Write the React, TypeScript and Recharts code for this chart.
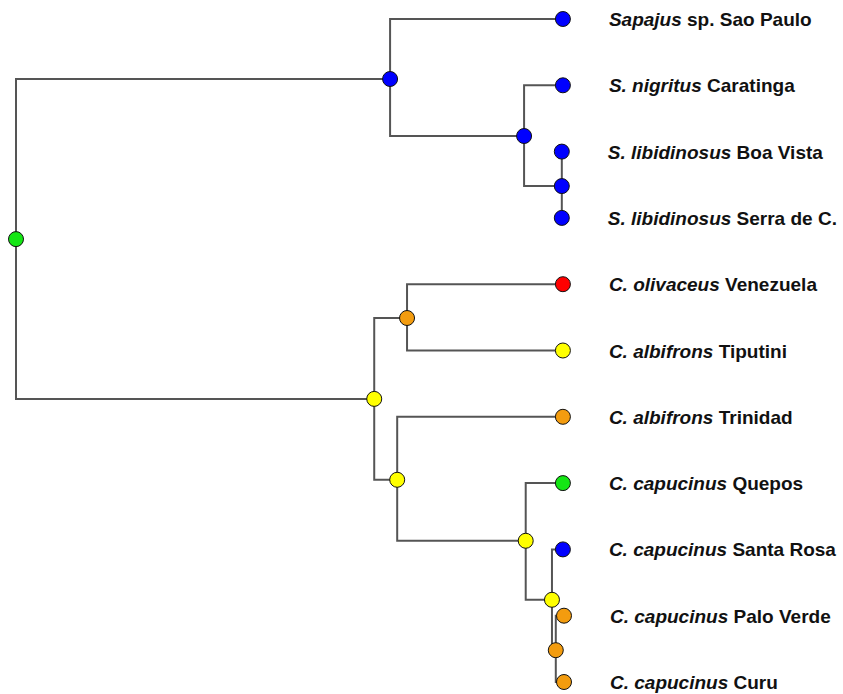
import { Scatter, ScatterChart, XAxis, YAxis } from "recharts"

const GREEN = "#14e614"
const BLUE = "#0000ff"
const RED = "#ff0000"
const ORANGE = "#f39c0f"
const YELLOW = "#ffff00"

// tips (leaves), top to bottom
const tipItalic = [
  "Sapajus",
  "S. nigritus",
  "S. libidinosus",
  "S. libidinosus",
  "C. olivaceus",
  "C. albifrons",
  "C. albifrons",
  "C. capucinus",
  "C. capucinus",
  "C. capucinus",
  "C. capucinus",
]
const tipPlain = [
  "sp. Sao Paulo",
  "Caratinga",
  "Boa Vista",
  "Serra de C.",
  "Venezuela",
  "Tiputini",
  "Trinidad",
  "Quepos",
  "Santa Rosa",
  "Palo Verde",
  "Curu",
]
const tipOrder = [0, 1, 2, 3, 4, 5, 6, 7, 8, 9, 10]
const tipDepth = [1, 1, 0.998, 0.998, 1, 1, 1, 1, 1, 1.002, 1.002]
const tipParent = ["sap", "sapB", "lib", "lib", "oliv", "oliv", "cebB", "cap", "capB", "capC", "capC"]
const tipColor = [BLUE, BLUE, BLUE, BLUE, RED, YELLOW, ORANGE, GREEN, BLUE, ORANGE, ORANGE]

// internal nodes
const innerIds = ["root", "sap", "sapB", "lib", "ceb", "oliv", "cebB", "cap", "capB", "capC"]
const innerDepth = [0, 0.684, 0.929, 0.998, 0.655, 0.715, 0.697, 0.932, 0.98, 0.987]
const innerOrder = [3.32, 0.905, 1.765, 2.52, 5.73, 4.51, 6.95, 7.87, 8.76, 9.52]
const innerParent = ["", "root", "sap", "sapB", "root", "ceb", "ceb", "cebB", "cap", "capB"]
const innerColor = [GREEN, BLUE, BLUE, BLUE, YELLOW, ORANGE, YELLOW, YELLOW, YELLOW, ORANGE]

type Node = { x: number; y: number; color: string; parent: string; italic?: string; plain?: string }

const inner: Record<string, Node> = {}
innerIds.forEach((id, i) => {
  inner[id] = { x: innerDepth[i], y: innerOrder[i], color: innerColor[i], parent: innerParent[i] }
})

const tips: Node[] = tipOrder.map((y, i) => ({
  x: tipDepth[i],
  y,
  color: tipColor[i],
  parent: tipParent[i],
  italic: tipItalic[i],
  plain: tipPlain[i],
}))

const allNodes: Node[] = [...Object.values(inner), ...tips]

// elbow edges: parent -> down/up to child's row -> across to child
const edges = allNodes
  .filter((n) => n.parent)
  .map((n) => {
    const p = inner[n.parent]
    return [
      { x: p.x, y: p.y },
      { x: p.x, y: n.y },
      { x: n.x, y: n.y },
    ]
  })

const innerList = Object.values(inner)

const NodeDot = (props: any) => {
  const { cx, cy, payload } = props
  return <circle cx={cx} cy={cy} r={7.5} fill={payload.color} stroke="#111" strokeWidth={1} />
}

const TipDot = (props: any) => {
  const { cx, cy, payload } = props
  return (
    <g>
      <circle cx={cx} cy={cy} r={7.5} fill={payload.color} stroke="#111" strokeWidth={1} />
      <text
        x={cx + 46}
        y={cy + 7}
        fontFamily="'Liberation Sans', Arial, sans-serif"
        fontWeight="bold"
        fontSize={19}
        fill="#111"
      >
        <tspan fontStyle="italic">{payload.italic}</tspan>
        <tspan> {payload.plain}</tspan>
      </text>
    </g>
  )
}

export default function App() {
  return (
    <div style={{ position: "absolute", left: 0, top: 0, background: "#fff" }}>
      <ScatterChart width={843} height={694} margin={{ top: 19, right: 279, bottom: 12, left: 16 }}>
        <XAxis type="number" dataKey="x" domain={[0, 1]} hide />
        <YAxis type="number" dataKey="y" domain={[0, 10]} reversed hide />
        {edges.map((pts, i) => (
          <Scatter
            key={"e" + i}
            data={pts}
            line={{ stroke: "#555", strokeWidth: 2 }}
            shape={() => <g />}
            isAnimationActive={false}
          />
        ))}
        <Scatter data={innerList} shape={NodeDot} isAnimationActive={false} />
        <Scatter data={tips} shape={TipDot} isAnimationActive={false} />
      </ScatterChart>
    </div>
  )
}
